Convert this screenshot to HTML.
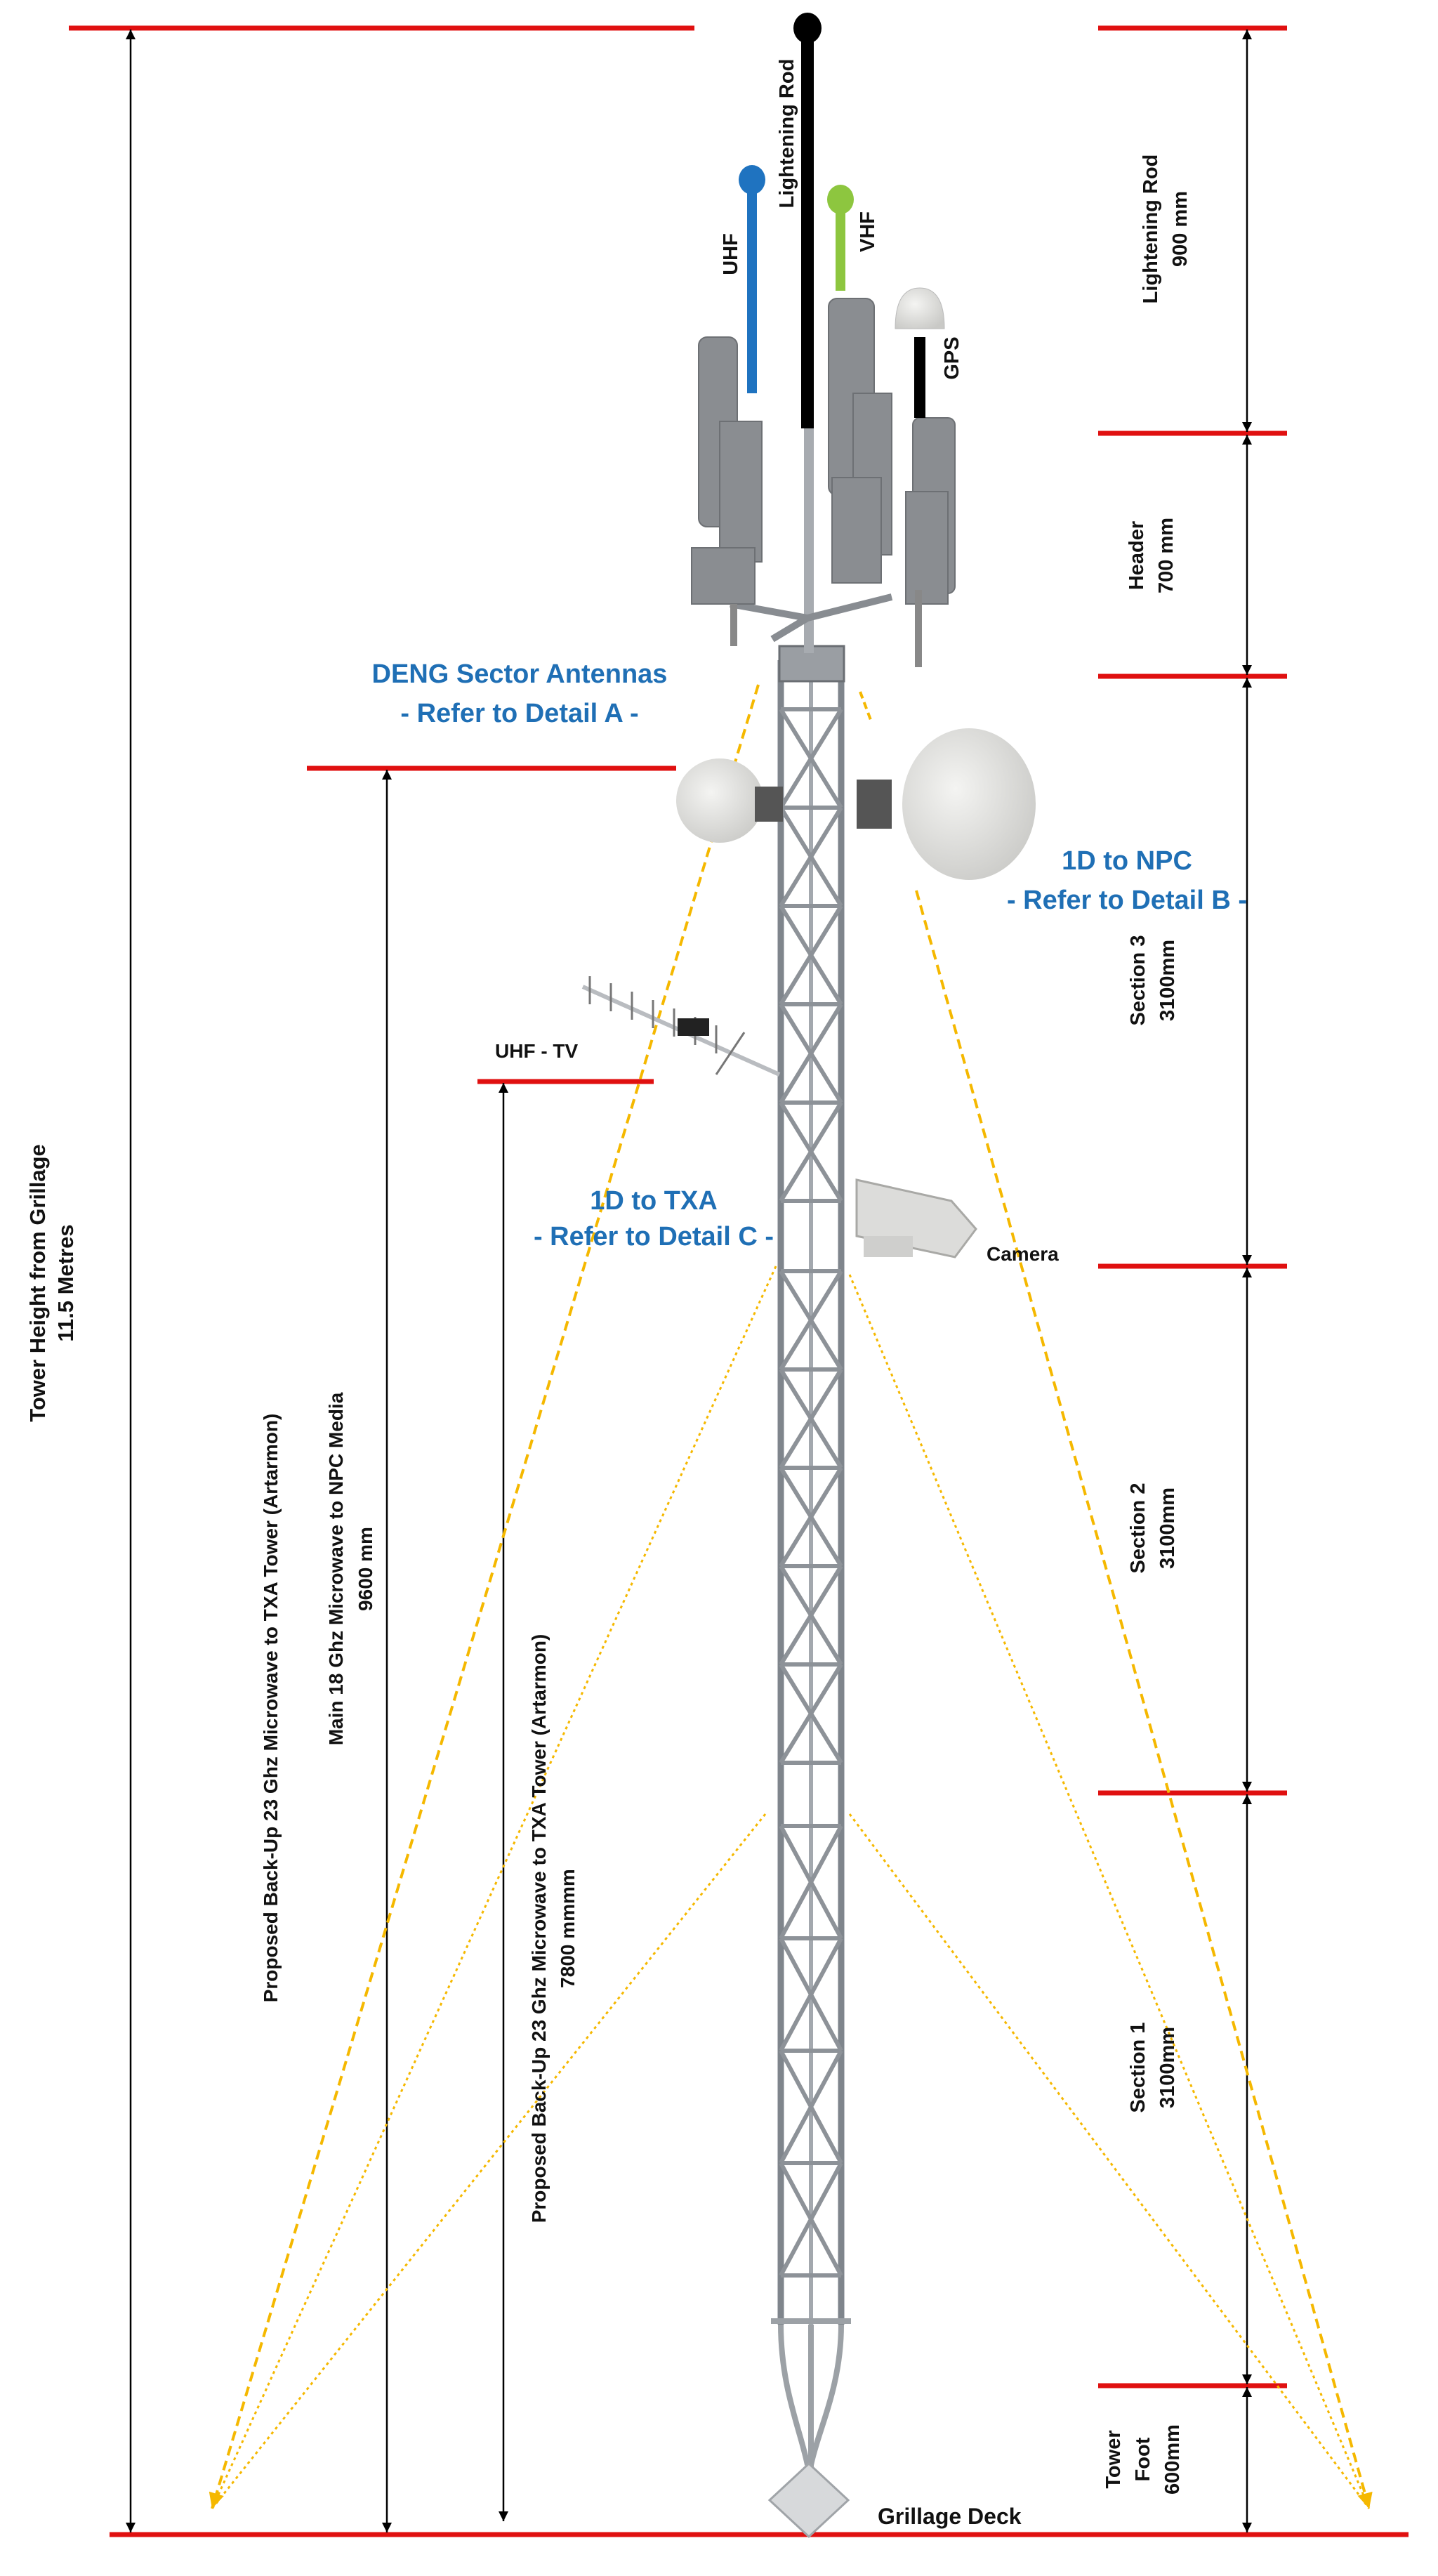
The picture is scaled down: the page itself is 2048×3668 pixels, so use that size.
<!DOCTYPE html>
<html><head><meta charset="utf-8"><style>
html,body{margin:0;padding:0;background:#fff}
svg{display:block}
.b{font-family:"Liberation Sans",sans-serif;font-weight:bold;fill:#111}
.bl{font-family:"Liberation Sans Narrow","Liberation Sans",sans-serif;font-weight:bold;fill:#1f6fb5}
</style></head><body>
<svg width="2048" height="3668" viewBox="0 0 2048 3668" xmlns="http://www.w3.org/2000/svg">
<defs>
<marker id="a" viewBox="0 0 10 10" refX="10" refY="5" markerWidth="14" markerHeight="26" markerUnits="userSpaceOnUse" orient="auto-start-reverse"><path d="M0,0 L10,5 L0,10 z" fill="#000"/></marker>
<marker id="y" viewBox="0 0 10 10" refX="10" refY="5" markerWidth="26" markerHeight="22" markerUnits="userSpaceOnUse" orient="auto"><path d="M0,0 L10,5 L0,10 z" fill="#f5b800"/></marker>
<linearGradient id="g" x1="0" x2="1"><stop offset="0" stop-color="#7d8086"/><stop offset=".5" stop-color="#c4c7cc"/><stop offset="1" stop-color="#6f7378"/></linearGradient>
<radialGradient id="d" cx=".4" cy=".4" r=".7"><stop offset="0" stop-color="#f4f4f2"/><stop offset="1" stop-color="#c9c9c6"/></radialGradient>
</defs>

<!-- red lines -->
<g stroke="#e01010" stroke-width="7">
<line x1="98" y1="40" x2="989" y2="40"/>
<line x1="1564" y1="40" x2="1833" y2="40"/>
<line x1="1564" y1="617" x2="1833" y2="617"/>
<line x1="1564" y1="963" x2="1833" y2="963"/>
<line x1="1564" y1="1803" x2="1833" y2="1803"/>
<line x1="1564" y1="2553" x2="1833" y2="2553"/>
<line x1="1564" y1="3397" x2="1833" y2="3397"/>
<line x1="437" y1="1094" x2="963" y2="1094"/>
<line x1="680" y1="1540" x2="931" y2="1540"/>
<line x1="156" y1="3609" x2="2006" y2="3609"/>
</g>

<!-- black dimension arrows -->
<g stroke="#000" stroke-width="2.5" fill="none">
<line x1="186" y1="42" x2="186" y2="3606" marker-start="url(#a)" marker-end="url(#a)"/>
<line x1="551" y1="1096" x2="551" y2="3606" marker-start="url(#a)" marker-end="url(#a)"/>
<line x1="717" y1="1542" x2="717" y2="3590" marker-start="url(#a)" marker-end="url(#a)"/>
<line x1="1776" y1="42" x2="1776" y2="615" marker-start="url(#a)" marker-end="url(#a)"/>
<line x1="1776" y1="619" x2="1776" y2="961" marker-start="url(#a)" marker-end="url(#a)"/>
<line x1="1776" y1="965" x2="1776" y2="1801" marker-start="url(#a)" marker-end="url(#a)"/>
<line x1="1776" y1="1805" x2="1776" y2="2551" marker-start="url(#a)" marker-end="url(#a)"/>
<line x1="1776" y1="2555" x2="1776" y2="3395" marker-start="url(#a)" marker-end="url(#a)"/>
<line x1="1776" y1="3399" x2="1776" y2="3606" marker-start="url(#a)" marker-end="url(#a)"/>
</g>

<!-- yellow lines -->
<g stroke="#f5b800" fill="none" stroke-width="4">
<line x1="1080" y1="975" x2="302" y2="3572" stroke-dasharray="14,8" marker-end="url(#y)"/>
<line x1="1305" y1="1268" x2="1950" y2="3572" stroke-dasharray="14,8" marker-end="url(#y)"/>
<line x1="1225" y1="985" x2="1240" y2="1025" stroke-dasharray="10,6"/>
<line x1="1105" y1="1803" x2="302" y2="3572" stroke-dasharray="4,5" stroke-width="3"/>
<line x1="1090" y1="2583" x2="302" y2="3572" stroke-dasharray="4,5" stroke-width="3"/>
<line x1="1210" y1="1815" x2="1950" y2="3572" stroke-dasharray="4,5" stroke-width="3"/>
<line x1="1210" y1="2583" x2="1950" y2="3572" stroke-dasharray="4,5" stroke-width="3"/>
</g>

<!-- tower lattice -->
<g stroke="#7f858c" stroke-width="9" fill="none">
<line x1="1112" y1="940" x2="1112" y2="3310"/>
<line x1="1198" y1="940" x2="1198" y2="3310"/>
<line x1="1155" y1="950" x2="1155" y2="3310" stroke="#a3a8ae" stroke-width="6"/>
</g>
<g stroke="#8d9298" stroke-width="6" fill="none">
<path d="M1112 1010H1198 M1112 1150H1198 M1112 1290H1198 M1112 1430H1198 M1112 1570H1198 M1112 1710H1198 M1112 1810H1198 M1112 1950H1198 M1112 2090H1198 M1112 2230H1198 M1112 2370H1198 M1112 2510H1198 M1112 2600H1198 M1112 2760H1198 M1112 2920H1198 M1112 3080H1198 M1112 3240H1198"/>
<path d="M1112 1010L1198 1150M1198 1010L1112 1150 M1112 1150L1198 1290M1198 1150L1112 1290 M1112 1290L1198 1430M1198 1290L1112 1430 M1112 1430L1198 1570M1198 1430L1112 1570 M1112 1570L1198 1710M1198 1570L1112 1710 M1112 1810L1198 1950M1198 1810L1112 1950 M1112 1950L1198 2090M1198 1950L1112 2090 M1112 2090L1198 2230M1198 2090L1112 2230 M1112 2230L1198 2370M1198 2230L1112 2370 M1112 2370L1198 2510M1198 2370L1112 2510 M1112 2600L1198 2760M1198 2600L1112 2760 M1112 2760L1198 2920M1198 2760L1112 2920 M1112 2920L1198 3080M1198 2920L1112 3080 M1112 3080L1198 3240M1198 3080L1112 3240"/>
</g>
<!-- tower foot -->
<g stroke="#9ca1a6" stroke-width="8" fill="none">
<path d="M1098 3305H1212"/>
<path d="M1112 3310 C1112 3400 1140 3460 1150 3510 M1198 3310 C1198 3400 1165 3460 1155 3510 M1155 3310V3520"/>
</g>
<path d="M1152 3508 L1208 3560 L1152 3612 L1096 3560 Z" fill="#d7d9db" stroke="#a0a4a8" stroke-width="3"/>
<!-- tower head -->
<rect x="1110" y="920" width="92" height="50" fill="#9a9ea3" stroke="#6a6e73" stroke-width="3"/>
<rect x="1145" y="600" width="14" height="330" fill="#a7abb0"/>
<path d="M1150 880 L1040 860 M1150 880 L1270 850 M1150 880 L1100 910" stroke="#888c91" stroke-width="10"/>

<!-- sector antennas -->
<g fill="#8a8d91" stroke="#6d7074" stroke-width="2">
<rect x="995" y="480" width="55" height="270" rx="12"/>
<rect x="1025" y="600" width="60" height="200"/>
<rect x="985" y="780" width="90" height="80"/>
<rect x="1180" y="425" width="65" height="280" rx="12"/>
<rect x="1215" y="560" width="55" height="230"/>
<rect x="1185" y="680" width="70" height="150"/>
<rect x="1300" y="595" width="60" height="250" rx="10"/>
<rect x="1290" y="700" width="60" height="160"/>
</g>
<rect x="1040" y="860" width="10" height="60" fill="#888"/>
<rect x="1303" y="840" width="10" height="110" fill="#888"/>

<!-- rods -->
<line x1="1150" y1="40" x2="1150" y2="610" stroke="#000" stroke-width="18"/>
<ellipse cx="1150" cy="40" rx="20" ry="22" fill="#000"/>
<line x1="1071" y1="256" x2="1071" y2="560" stroke="#1f73c0" stroke-width="14"/>
<ellipse cx="1071" cy="256" rx="19" ry="21" fill="#1f73c0"/>
<line x1="1197" y1="284" x2="1197" y2="414" stroke="#8dc63f" stroke-width="14"/>
<ellipse cx="1197" cy="284" rx="19" ry="21" fill="#8dc63f"/>
<line x1="1310" y1="480" x2="1310" y2="595" stroke="#000" stroke-width="16"/>
<path d="M1275 468 Q1275 410 1310 410 Q1345 410 1345 468 Z" fill="url(#d)" stroke="#bbb"/>

<!-- dishes -->
<ellipse cx="1025" cy="1140" rx="62" ry="60" fill="url(#d)"/>
<rect x="1075" y="1120" width="40" height="50" fill="#555"/>
<ellipse cx="1380" cy="1145" rx="95" ry="108" fill="url(#d)"/>
<rect x="1220" y="1110" width="50" height="70" fill="#555"/>

<!-- yagi -->
<g stroke="#b9bcc0" stroke-width="6">
<line x1="830" y1="1405" x2="1110" y2="1530"/>
</g>
<g stroke="#777" stroke-width="3">
<path d="M840 1390v40 M870 1400v40 M900 1412v40 M930 1424v40 M960 1436v40 M990 1448v40 M1020 1460v40 M1060 1470l-40 60"/>
</g>
<rect x="965" y="1450" width="45" height="25" fill="#222"/>

<!-- camera -->
<path d="M1220 1680 L1355 1710 L1390 1750 L1360 1790 L1220 1760 Z" fill="#dcdcda" stroke="#a9a9a6" stroke-width="3"/>
<rect x="1230" y="1760" width="70" height="30" fill="#cfcfcd"/>

<!-- black labels -->
<g class="b">
<text transform="translate(64,1827) rotate(-90)" text-anchor="middle" font-size="31">Tower Height from Grillage</text>
<text transform="translate(104,1827) rotate(-90)" text-anchor="middle" font-size="31">11.5  Metres</text>
<text transform="translate(395,2432) rotate(-90)" text-anchor="middle" font-size="28">Proposed Back-Up 23 Ghz Microwave to TXA Tower (Artarmon)</text>
<text transform="translate(488,2234) rotate(-90)" text-anchor="middle" font-size="28">Main 18 Ghz Microwave to NPC Media</text>
<text transform="translate(530,2234) rotate(-90)" text-anchor="middle" font-size="28">9600 mm</text>
<text transform="translate(777,2746) rotate(-90)" text-anchor="middle" font-size="28">Proposed Back-Up 23 Ghz Microwave to TXA Tower (Artarmon)</text>
<text transform="translate(818,2746) rotate(-90)" text-anchor="middle" font-size="28">7800 mmmm</text>
<text transform="translate(1648,326) rotate(-90)" text-anchor="middle" font-size="29">Lightening Rod</text>
<text transform="translate(1690,326) rotate(-90)" text-anchor="middle" font-size="29">900 mm</text>
<text transform="translate(1628,791) rotate(-90)" text-anchor="middle" font-size="29">Header</text>
<text transform="translate(1670,791) rotate(-90)" text-anchor="middle" font-size="29">700 mm</text>
<text transform="translate(1630,1396) rotate(-90)" text-anchor="middle" font-size="29">Section 3</text>
<text transform="translate(1672,1396) rotate(-90)" text-anchor="middle" font-size="29">3100mm</text>
<text transform="translate(1630,2176) rotate(-90)" text-anchor="middle" font-size="29">Section 2</text>
<text transform="translate(1672,2176) rotate(-90)" text-anchor="middle" font-size="29">3100mm</text>
<text transform="translate(1630,2944) rotate(-90)" text-anchor="middle" font-size="29">Section 1</text>
<text transform="translate(1672,2944) rotate(-90)" text-anchor="middle" font-size="29">3100mm</text>
<text transform="translate(1595,3502) rotate(-90)" text-anchor="middle" font-size="29">Tower</text>
<text transform="translate(1637,3502) rotate(-90)" text-anchor="middle" font-size="29">Foot</text>
<text transform="translate(1679,3502) rotate(-90)" text-anchor="middle" font-size="29">600mm</text>
<text transform="translate(1130,190) rotate(-90)" text-anchor="middle" font-size="29">Lightening Rod</text>
<text transform="translate(1050,362) rotate(-90)" text-anchor="middle" font-size="29">UHF</text>
<text transform="translate(1245,330) rotate(-90)" text-anchor="middle" font-size="29">VHF</text>
<text transform="translate(1365,510) rotate(-90)" text-anchor="middle" font-size="29">GPS</text>
<text x="705" y="1506" font-size="28">UHF - TV</text>
<text x="1405" y="1795" font-size="28">Camera</text>
<text x="1250" y="3594" font-size="32" font-family="Liberation Sans Narrow,Liberation Sans,sans-serif">Grillage Deck</text>
</g>

<!-- blue labels -->
<g class="bl" font-size="38" text-anchor="middle">
<text x="740" y="972">DENG Sector Antennas</text>
<text x="740" y="1028">- Refer to Detail A -</text>
<text x="1605" y="1238">1D to NPC</text>
<text x="1605" y="1294">- Refer to Detail B -</text>
<text x="931" y="1722">1D to TXA</text>
<text x="931" y="1773">- Refer to Detail C -</text>
</g>
</svg>
</body></html>
